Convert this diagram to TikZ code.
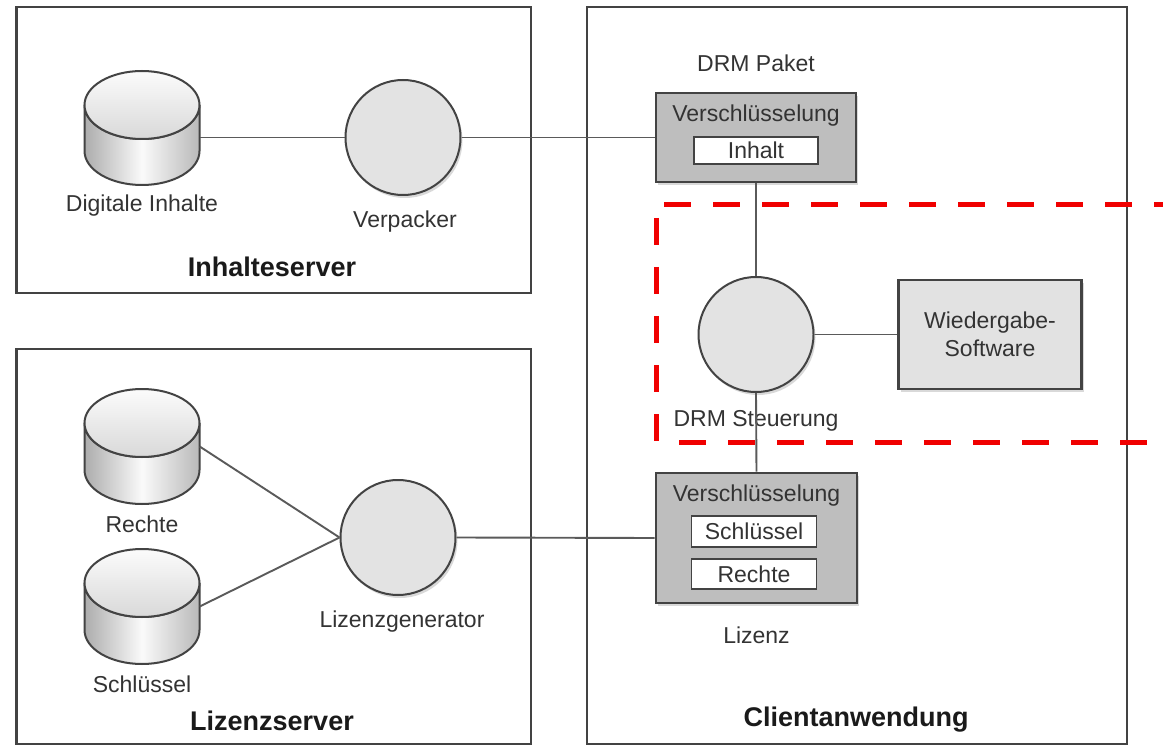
\documentclass[tikz,border=0pt]{standalone}
\usepackage{fontspec}
\setmainfont{Liberation Sans}
\usetikzlibrary{shadows}
\definecolor{txt}{HTML}{333333}
\definecolor{boldtxt}{HTML}{1A1A1A}
\definecolor{bord}{HTML}{434343}
\definecolor{con}{HTML}{5A5A5A}
\definecolor{cfill}{HTML}{E3E3E3}
\definecolor{bfill}{HTML}{BEBEBE}
\definecolor{wfill}{HTML}{E2E2E2}
\definecolor{dashred}{HTML}{F00000}
\tikzset{
  lbl/.style={text=txt, font=\fontsize{23}{28}\selectfont, inner sep=0pt},
  grouptitle/.style={text=boldtxt, font=\bfseries\fontsize{27}{32}\selectfont, inner sep=0pt},
  groupbox/.style={draw=bord, line width=2.2pt, inner sep=0pt},
  proc/.style={circle, draw=bord, line width=2pt, fill=cfill, minimum size=115pt, inner sep=0pt,
    drop shadow={shadow xshift=2pt, shadow yshift=-3pt, fill=black, opacity=0.15}},
  pkg/.style={rectangle, draw=bord, line width=2.6pt, fill=bfill, inner sep=0pt,
    drop shadow={shadow xshift=2pt, shadow yshift=-3pt, fill=black, opacity=0.15}},
  softbox/.style={rectangle, draw=bord, line width=2.2pt, fill=wfill, inner sep=0pt,
    drop shadow={shadow xshift=2pt, shadow yshift=-3pt, fill=black, opacity=0.15}},
  field/.style={rectangle, draw=bord, line width=1.5pt, fill=white, inner sep=0pt},
  dbnode/.style={rectangle, inner sep=0pt, minimum width=115pt},
  conn/.style={draw=con, line width=1.9pt},
  redline/.style={draw=dashred, line width=5pt, dash pattern=on 27pt off 22pt}
}
% #1 name, #2 centre x, #3 top y (pixels, downward), #4 bottom y
\newcommand\drawdb[4]{%
  \pgfmathsetmacro\dbl{#2-57.5}%
  \pgfmathsetmacro\dbr{#2+57.5}%
  \pgfmathsetmacro\dbt{-(#3+34)}%
  \pgfmathsetmacro\dbb{-(#4-34)}%
  \pgfmathsetmacro\dbc{-(#3+#4)/2}%
  \pgfmathsetmacro\dbh{#4-#3}%
  \path[left color=gray!65, right color=gray!55, middle color=white!96!gray, draw=bord, line width=2pt]
    (\dbl,\dbt) -- (\dbl,\dbb) arc[start angle=180, end angle=360, x radius=57.5, y radius=34]
    -- (\dbr,\dbt) arc[start angle=360, end angle=180, x radius=57.5, y radius=34] -- cycle;
  \path[top color=white!97!gray, bottom color=gray!30, draw=bord, line width=2pt]
    (#2,\dbt) ellipse[x radius=57.5, y radius=34];
  \node[dbnode, minimum height=\dbh pt] (#1) at (#2,\dbc) {};
}
\begin{document}
\begin{tikzpicture}[x=1pt, y=1pt]
\useasboundingbox (0,0) rectangle (1163,-746);
\fill[white] (0,0) rectangle (1163,-746);

% group boxes
\node[groupbox, minimum width=514.5pt, minimum height=286pt] (inhs) at (273.75,-150) {};
\node[groupbox, minimum width=514.5pt, minimum height=395pt] (lizs) at (273.75,-546.5) {};
\node[groupbox, minimum width=540pt, minimum height=737pt] (client) at (857,-375.5) {};

\node[grouptitle] (inhst) at (272,-267) {Inhalteserver};
\node[grouptitle] (lizst) at (272,-721) {Lizenzserver};
\node[grouptitle] (clientt) at (856,-720) {Clientanwendung};

% Inhalteserver
\drawdb{dbI}{142}{71}{185}
\node[lbl] (dbIl) at (142,-206) {Digitale Inhalte};
\node[proc] (verp) at (403,-137.5) {};
\node[lbl] (verpl) at (405,-222) {Verpacker};

% Lizenzserver
\drawdb{dbR}{142}{389}{504}
\node[lbl] (dbRl) at (142,-524) {Rechte};
\drawdb{dbS}{142}{549}{664}
\node[lbl] (dbSl) at (142,-684) {Schlüssel};
\node[proc] (lgen) at (398,-537.5) {};
\node[lbl] (lgenl) at (402,-622) {Lizenzgenerator};

% Client
\node[lbl] (drmpl) at (756,-63) {DRM Paket};
\node[pkg, minimum width=200pt, minimum height=89pt] (drm) at (756,-137.5) {};
\node[lbl] (drmv) at (756,-116) {Verschlüsselung};
\node[field, minimum width=124pt, minimum height=27pt, lbl] (inh) at (756,-150.5) {Inhalt};

\node[proc] (steu) at (756,-334.5) {};
\node[lbl] (steul) at (756,-421) {DRM Steuerung};

\node[softbox, minimum width=183pt, minimum height=109pt] (wied) at (990,-334.5) {};
\node[lbl, align=center] (wiedt) at (990,-334.5) {Wiedergabe-\\Software};

\node[pkg, minimum width=201pt, minimum height=130pt] (liz) at (756.5,-538) {};
\node[lbl] (lizv) at (756.5,-495.5) {Verschlüsselung};
\node[field, minimum width=125pt, minimum height=31pt, lbl] (lsch) at (754,-531.5) {Schlüssel};
\node[field, minimum width=125pt, minimum height=30pt, lbl] (lrec) at (754,-574) {Rechte};
\node[lbl] (lizl) at (756.5,-635) {Lizenz};

% connectors
\draw[conn] (verp.west) -- (verp.west -| dbI.east);
\draw[conn] (verp.east) -- (drm.west);
\draw[conn] (dbR.east) -- (lgen.west);
\draw[conn] (dbS.east) -- (lgen.west);
\draw[conn] (lgen.east) -- (liz.west);
\draw[conn] (drm.south) -- (steu.north);
\draw[conn] (steu.south) -- (liz.north);
\draw[conn] (steu.east) -- (wied.west);

% red dashed outline
\coordinate (rtl) at (664,-205);
\coordinate (rtr) at (1163,-205);
\coordinate (rlt) at (656,-218);
\coordinate (rlb) at (656,-444);
\coordinate (rbl) at (679,-442);
\coordinate (rbr) at (1150,-442);
\draw[redline] (rtl) -- (rtr);
\draw[redline] (rlt) -- (rlb);
\draw[redline] (rbl) -- (rbr);
\end{tikzpicture}
\end{document}
